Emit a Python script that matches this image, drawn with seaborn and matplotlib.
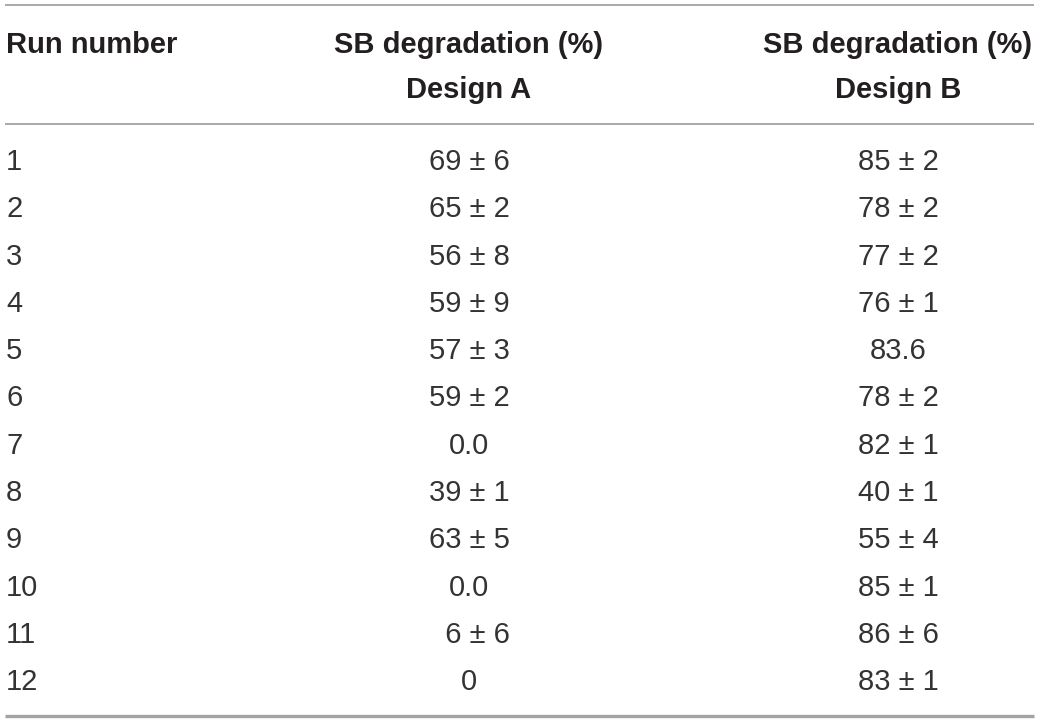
import matplotlib
matplotlib.use("Agg")
import matplotlib.pyplot as plt
import seaborn as sns
import pandas as pd

# ---- data ----
run_numbers = ["1", "2", "3", "4", "5", "6", "7", "8", "9", "10", "11", "12"]
design_a = ["69 ± 6", "65 ± 2", "56 ± 8", "59 ± 9", "57 ± 3", "59 ± 2",
            "0.0", "39 ± 1", "63 ± 5", "0.0", "  6 ± 6", "0"]
design_b = ["85 ± 2", "78 ± 2", "77 ± 2", "76 ± 1", "83.6", "78 ± 2",
            "82 ± 1", "40 ± 1", "55 ± 4", "85 ± 1", "86 ± 6", "83 ± 1"]
header_top = ["Run number", "SB degradation (%)", "SB degradation (%)"]
header_bottom = ["", "Design A", "Design B"]

table = pd.DataFrame({"run": run_numbers, "A": design_a, "B": design_b})

sns.set_theme(style="white")
plt.rcParams["font.family"] = ["Liberation Sans", "DejaVu Sans"]

W, H = 1039, 722
fig = plt.figure(figsize=(W / 100, H / 100), dpi=100)
ax = fig.add_axes([0, 0, 1, 1])
ax.set_xlim(0, W)
ax.set_ylim(H, 0)
ax.axis("off")

line_color = "#a3a3a3"
text_color = "#231f20"
data_color = "#333333"
fs_head = 21
fs_data = 21

# rules
ax.hlines(5, 5, 1034, color=line_color, lw=1.3)
ax.hlines(124, 5, 1034, color=line_color, lw=1.3)
ax.hlines(715.5, 5, 1034, color=line_color, lw=2.4)

# column anchors
col_x = [6, 469, 898]
col_ha = ["left", "center", "center"]

# header
for j in range(3):
    ax.text(col_x[j], 53, header_top[j], ha=col_ha[j], va="baseline",
            fontsize=fs_head, fontweight="bold", color=text_color)
    if header_bottom[j]:
        ax.text(col_x[j], 98, header_bottom[j], ha=col_ha[j], va="baseline",
                fontsize=fs_head, fontweight="bold", color=text_color)

# body
y0, pitch = 170, 47.3
for i, row in table.iterrows():
    y = y0 + i * pitch
    for j, key in enumerate(["run", "A", "B"]):
        ax.text(col_x[j], y, row[key], ha=col_ha[j], va="baseline",
                fontsize=fs_data, color=data_color)

fig.savefig("out.png", dpi=100, facecolor="white")
